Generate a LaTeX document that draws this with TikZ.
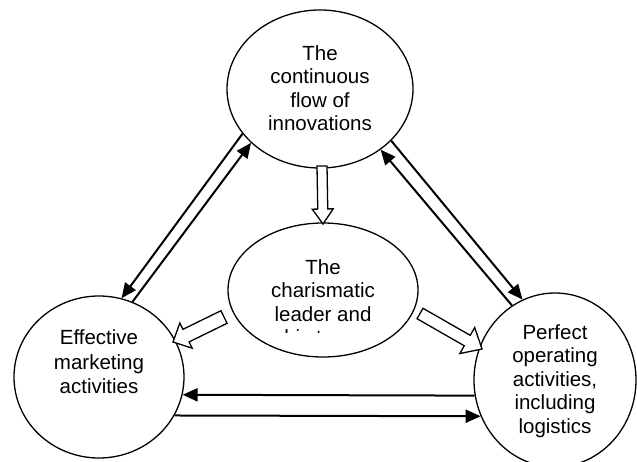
\documentclass[tikz,border=0pt]{standalone}
\usepackage{fontspec}
\setmainfont{Liberation Sans}
\usetikzlibrary{shapes.geometric,arrows.meta,calc}
\tikzset{
  bubble/.style={draw, ellipse, line width=1.3pt, inner sep=0pt},
  lbl/.style={align=center, inner sep=0pt, font=\fontsize{20.5}{23.5}\selectfont},
  conn/.style={line width=2pt, -{Triangle[length=15pt,width=13pt]}},
  blk/.style={draw, line width=1.3pt, fill=white, line join=miter}
}
\newcommand\blockarrow[5]{%
  \coordinate (hb) at ($(#2)!#5!(#1)$);
  \draw[blk] ($(#1)!#3!90:(#2)$) -- ($(hb)!#3!-90:(#1)$) -- ($(hb)!#4!-90:(#1)$)
    -- (#2) -- ($(hb)!#4!90:(#1)$) -- ($(hb)!#3!90:(#1)$) -- ($(#1)!#3!-90:(#2)$) -- cycle;
}
\begin{document}
\begin{tikzpicture}[x=1pt,y=1pt]
\useasboundingbox (0,0) rectangle (637,461);
\fill[white] (0,0) rectangle (637,461);
% ellipses
\node[bubble, minimum width=186pt, minimum height=158pt] (T) at (320,372) {};
\node[bubble, minimum width=190pt, minimum height=134pt] (C) at (323,171) {};
\node[bubble, minimum width=170pt, minimum height=162pt] (L) at (99,84) {};
\node[bubble, minimum width=162pt, minimum height=174pt] (R) at (555,81) {};
% texts
\node[lbl] (tT) at (320,373) {The\\continuous\\flow of\\innovations};
\node[lbl, font=\fontsize{20.5}{24.5}\selectfont] (tL) at (99,99) {Effective\\marketing\\activities};
\node[lbl] (tR) at (555,80) {Perfect\\operating\\activities,\\including\\logistics};
\begin{scope}
  \clip (0,129) rectangle (637,461);
  \node[lbl] (tC) at (323,159) {The\\charismatic\\leader and\\his team};
\end{scope}
% line arrows
\draw[conn] (T.210.5) -- (L.74.7);
\draw[conn] (L.66.2) -- (T.218.7);
\draw[conn] (T.-36) -- (R.112);
\draw[conn] (R.120.5) -- (T.-45.5);
\draw[conn] (R.191.5) -- (L.-12.5);
\draw[conn] (L.-27.5) -- (R.206.6);
% block arrows
\coordinate (dA) at (322,295);
\coordinate (dB) at (323,237);
\blockarrow{dA}{dB}{5pt}{10.5pt}{15pt}
\coordinate (lA) at (224,144);
\coordinate (lB) at (173,119);
\blockarrow{lA}{lB}{7pt}{14pt}{14.5pt}
\coordinate (rA) at (420,147.5);
\coordinate (rB) at (482,112);
\blockarrow{rA}{rB}{6pt}{15pt}{17pt}
\end{tikzpicture}
\end{document}
